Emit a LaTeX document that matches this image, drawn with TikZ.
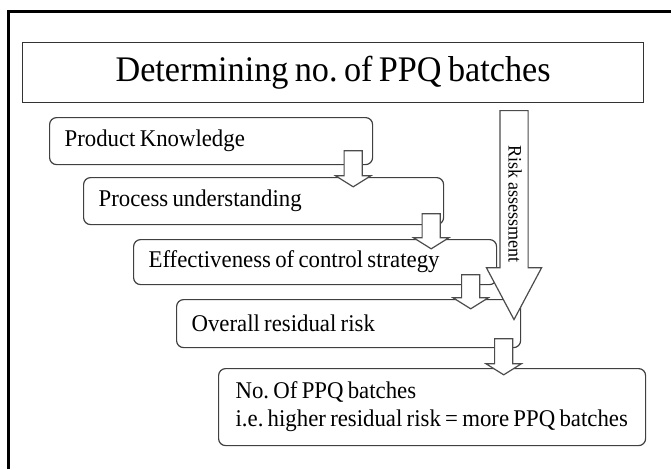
\documentclass[tikz,border=0pt]{standalone}
\usepackage{fontspec}
\setmainfont{Liberation Serif}[FakeStretch=0.95,WordSpace=0.75]
\usetikzlibrary{shapes.arrows,positioning,calc}
\frenchspacing

\tikzset{
  stage/.style={draw=black!75, line width=1.2pt, rounded corners=7pt, fill=white,
    anchor=north west, align=flush left, inner xsep=15pt, inner ysep=4pt,
    font=\fontsize{24}{28}\selectfont},
  flowarrow/.style={single arrow, draw=black!70, line width=1.2pt, fill=white,
    rotate=-90, anchor=tail, inner xsep=0pt, inner ysep=8.5pt, minimum width=34pt,
    minimum height=36pt, single arrow head extend=8.5pt, single arrow tip angle=116}
}

\begin{document}
\begin{tikzpicture}[x=1pt,y=-1pt]
\useasboundingbox (0,0) rectangle (671,469);

% outer frame, cut off at the right and bottom
\draw[line width=3pt] (8.5,469) -- (8.5,11) -- (671,11);

\node[draw=black!80, line width=1.2pt, minimum width=621pt, minimum height=60pt,
  anchor=north west, inner sep=0pt, font=\fontsize{36}{40}\selectfont]
  (title) at (22,42) {Determining no. of PPQ batches};

\node[stage, text width=293pt, minimum height=47pt] (pk) at (49,117) {Product Knowledge};
\node[stage, text width=330pt, minimum height=47pt] (pu) at (83,177) {Process understanding};
\node[stage, text width=333pt, minimum height=45pt] (ecs) at (133,239) {Effectiveness of control strategy};
\node[stage, text width=314pt, minimum height=48pt] (orr) at (176,299) {Overall residual risk};
\node[stage, text width=393pt, inner xsep=17pt, minimum height=77pt] (nb) at (218,368)
  {No. Of PPQ batches\\i.e. higher residual risk = more PPQ batches};

% small arrows between the stages
\node[flowarrow] (a1) at ($(pk.south east)+(-20,-15)$) {};
\node[flowarrow, minimum height=35pt] (a2) at ($(pu.south east)+(-13,-12)$) {};
\node[flowarrow, minimum height=34pt] (a3) at ($(ecs.south east)+(-26.5,-11)$) {};
\node[flowarrow] (a4) at ($(orr.south east)+(-17.5,-10)$) {};

% risk assessment arrow
\node[single arrow, draw=black!70, line width=1.2pt, fill=white, rotate=-90, anchor=tail,
  inner xsep=0pt, inner ysep=13.5pt, minimum width=54pt, minimum height=209pt,
  single arrow head extend=13.5pt, single arrow tip angle=56] (risk) at (514,110) {};
\node[rotate=-90, font=\fontsize{19}{22}\selectfont] (risklbl) at (515,204) {Risk assessment};

\end{tikzpicture}
\end{document}
